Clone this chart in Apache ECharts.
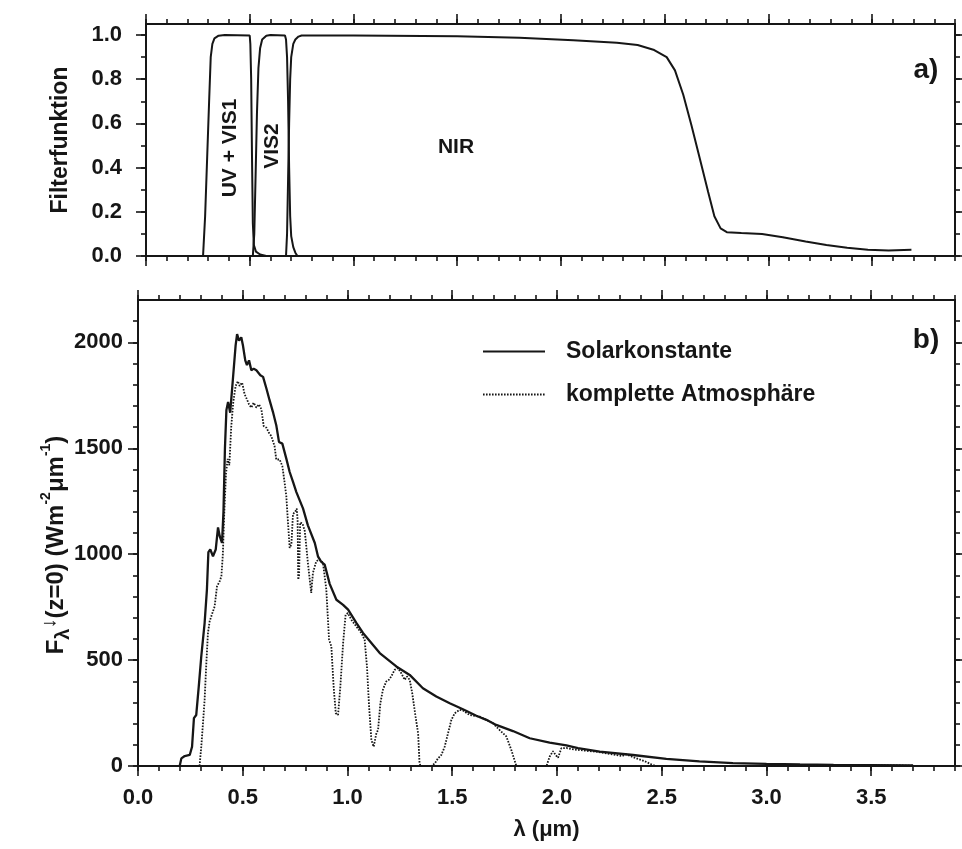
<!DOCTYPE html>
<html>
<head>
<meta charset="utf-8">
<script src="https://cdn.jsdelivr.net/npm/echarts@6/dist/echarts.min.js"></script>
<style>
html,body{margin:0;padding:0;background:#fff;}
#chart{width:962px;height:849px;}
</style>
</head>
<body>
<div id="chart"></div>
<script>
// ---------------- data ----------------
// wavelength axis ticks (µm)
const xMajorTicks = [0.0, 0.5, 1.0, 1.5, 2.0, 2.5, 3.0, 3.5];
const topYMajorTicks = [0.0, 0.2, 0.4, 0.6, 0.8, 1.0];
const bottomYMajorTicks = [0, 500, 1000, 1500, 2000];

// panel a) filter functions [λ µm, transmission]
const uvVis1Filter = [[0.275,0],[0.285,0.18],[0.295,0.45],[0.305,0.72],[0.312,0.9],[0.32,0.96],[0.33,0.985],[0.35,0.997],[0.38,1.0],[0.50,0.998],[0.503,0.96],[0.507,0.8],[0.511,0.45],[0.515,0.15],[0.52,0.05],[0.53,0.02],[0.55,0.007],[0.58,0]];
const vis2Filter = [[0.515,0],[0.522,0.1],[0.528,0.35],[0.535,0.65],[0.542,0.85],[0.55,0.94],[0.56,0.98],[0.58,0.997],[0.60,1.0],[0.67,0.998],[0.675,0.98],[0.68,0.9],[0.685,0.7],[0.69,0.4],[0.695,0.18],[0.70,0.09],[0.71,0.04],[0.72,0.015],[0.73,0]];
const nirFilter = [[0.675,0],[0.68,0.1],[0.685,0.35],[0.69,0.6],[0.695,0.8],[0.70,0.9],[0.71,0.96],[0.72,0.98],[0.735,0.993],[0.75,0.998],[1.0,0.998],[1.5,0.995],[1.8,0.988],[2.06,0.977],[2.27,0.965],[2.37,0.955],[2.45,0.932],[2.51,0.9],[2.55,0.84],[2.59,0.73],[2.63,0.59],[2.67,0.44],[2.71,0.29],[2.74,0.18],[2.77,0.125],[2.80,0.108],[2.87,0.104],[2.97,0.1],[3.07,0.085],[3.18,0.066],[3.28,0.05],[3.38,0.037],[3.48,0.028],[3.58,0.025],[3.69,0.028]];

// panel b) downward spectral flux at z=0 [λ µm, W m-2 µm-1]
const solarConstant = [[0.199,0],[0.207,36],[0.223,47],[0.247,52],[0.258,91],[0.267,226],[0.278,241],[0.29,375],[0.302,517],[0.318,675],[0.329,833],[0.336,1010],[0.345,1022],[0.358,990],[0.371,1022],[0.382,1126],[0.39,1085],[0.401,1053],[0.408,1200],[0.415,1500],[0.422,1680],[0.43,1719],[0.44,1668],[0.453,1826],[0.466,1986],[0.473,2039],[0.482,2008],[0.493,2024],[0.501,1985],[0.512,1915],[0.52,1893],[0.53,1915],[0.541,1868],[0.552,1876],[0.565,1868],[0.584,1845],[0.597,1837],[0.613,1782],[0.628,1727],[0.644,1672],[0.66,1609],[0.673,1530],[0.689,1522],[0.708,1451],[0.724,1388],[0.74,1341],[0.756,1293],[0.772,1254],[0.788,1215],[0.811,1136],[0.844,1053],[0.859,990],[0.874,965],[0.891,951],[0.915,860],[0.947,785],[0.979,761],[1.003,738],[1.043,675],[1.074,628],[1.154,533],[1.233,470],[1.297,430],[1.36,367],[1.424,328],[1.488,296],[1.551,268],[1.615,237],[1.663,218],[1.71,194],[1.79,165],[1.87,131],[1.965,110],[2.045,97],[2.1,84],[2.204,68],[2.363,52],[2.522,34],[2.68,22],[2.84,14],[3.0,10],[3.16,7],[3.32,5],[3.5,4],[3.7,3]];
const completeAtmosphere = [[0.294,0],[0.302,91],[0.31,200],[0.318,312],[0.326,480],[0.334,628],[0.342,683],[0.355,722],[0.366,754],[0.377,848],[0.39,872],[0.398,896],[0.405,1000],[0.412,1200],[0.42,1380],[0.428,1450],[0.436,1420],[0.445,1600],[0.455,1720],[0.466,1794],[0.477,1817],[0.485,1794],[0.497,1810],[0.509,1755],[0.52,1731],[0.53,1707],[0.541,1692],[0.552,1715],[0.565,1692],[0.578,1707],[0.589,1684],[0.6,1605],[0.613,1597],[0.625,1573],[0.636,1558],[0.652,1510],[0.66,1447],[0.676,1447],[0.689,1416],[0.7,1337],[0.708,1274],[0.716,1150],[0.724,1030],[0.732,1045],[0.74,1190],[0.75,1200],[0.758,1215],[0.762,1160],[0.765,880],[0.769,900],[0.774,1150],[0.785,1145],[0.796,1110],[0.811,959],[0.827,817],[0.835,911],[0.851,967],[0.867,975],[0.883,959],[0.899,833],[0.912,596],[0.923,565],[0.934,375],[0.944,249],[0.955,241],[0.966,375],[0.979,580],[0.991,714],[1.002,722],[1.018,691],[1.042,659],[1.066,628],[1.082,596],[1.093,470],[1.103,281],[1.114,123],[1.125,91],[1.138,155],[1.146,170],[1.157,296],[1.169,360],[1.185,399],[1.198,407],[1.209,423],[1.225,454],[1.241,462],[1.257,438],[1.273,407],[1.284,423],[1.297,407],[1.309,344],[1.325,233],[1.337,155],[1.344,13],[1.349,0],[1.40,0],[1.416,11],[1.432,36],[1.448,52],[1.464,91],[1.48,155],[1.496,218],[1.512,249],[1.535,265],[1.551,262],[1.583,241],[1.631,233],[1.663,218],[1.694,202],[1.726,170],[1.758,140],[1.782,76],[1.806,0],[1.95,0],[1.965,44],[1.981,70],[1.995,50],[2.005,39],[2.021,84],[2.045,85],[2.068,80],[2.1,76],[2.2,66],[2.31,47],[2.33,55],[2.36,43],[2.39,32],[2.42,22],[2.45,8],[2.47,0],[3.1,0],[3.15,5],[3.3,4],[3.5,3],[3.7,2]];

// ---------------- styling / layout ----------------
const FONT = '"Liberation Sans", Arial, sans-serif';
const INK = '#161616';
const X_MAX = 3.9, TOP_Y_MAX = 1.05, BOT_Y_MAX = 2200;

function range(step, max) { const a = []; for (let k = 0; k * step <= max + 1e-9; k++) a.push(+(k * step).toFixed(6)); return a; }
const xMinorTicks = range(0.1, X_MAX);
const topYMinorTicks = range(0.1, 1.0);
const bottomYMinorTicks = range(100, 2100);

const line = { show: true, onZero: false, lineStyle: { color: INK, width: 2 } };
function axis(grid, pos, max, ticks, len, labels) {
  const a = {
    type: 'value', gridIndex: grid, position: pos, min: 0, max: max,
    axisLine: line, splitLine: { show: false },
    axisTick: { show: true, customValues: ticks, length: len, lineStyle: { color: INK, width: 1.6 } },
    axisLabel: { show: false }
  };
  if (labels) a.axisLabel = Object.assign({ show: true, customValues: ticks, color: INK, fontFamily: FONT, fontWeight: 'bold', fontSize: 22 }, labels);
  return a;
}
const fmt1 = v => v.toFixed(1);
const fmt0 = v => String(Math.round(v));

const xAxes = [], yAxes = [];
// grid 0 (panel a): x axes 0-3, y axes 0-3
xAxes.push(axis(0, 'bottom', X_MAX, xMajorTicks, 10));
xAxes.push(axis(0, 'bottom', X_MAX, xMinorTicks, 5));
xAxes.push(axis(0, 'top', X_MAX, xMajorTicks, 10));
xAxes.push(axis(0, 'top', X_MAX, xMinorTicks, 5));
yAxes.push(axis(0, 'left', TOP_Y_MAX, topYMajorTicks, 10, { margin: 24, formatter: fmt1 }));
yAxes.push(axis(0, 'left', TOP_Y_MAX, topYMinorTicks, 5));
yAxes.push(axis(0, 'right', TOP_Y_MAX, topYMajorTicks, 10));
yAxes.push(axis(0, 'right', TOP_Y_MAX, topYMinorTicks, 5));
// grid 1 (panel b): x axes 4-7, y axes 4-7
xAxes.push(axis(1, 'bottom', X_MAX, xMajorTicks, 10, { margin: 21, formatter: fmt1 }));
xAxes.push(axis(1, 'bottom', X_MAX, xMinorTicks, 5));
xAxes.push(axis(1, 'top', X_MAX, xMajorTicks, 10));
xAxes.push(axis(1, 'top', X_MAX, xMinorTicks, 5));
yAxes.push(axis(1, 'left', BOT_Y_MAX, bottomYMajorTicks, 10, { margin: 15, formatter: fmt0 }));
yAxes.push(axis(1, 'left', BOT_Y_MAX, bottomYMinorTicks, 5));
yAxes.push(axis(1, 'right', BOT_Y_MAX, bottomYMajorTicks, 10));
yAxes.push(axis(1, 'right', BOT_Y_MAX, bottomYMinorTicks, 5));

// axis names
Object.assign(xAxes[4], {
  name: 'λ (μm)', nameLocation: 'middle', nameGap: 53,
  nameTextStyle: { color: INK, fontFamily: FONT, fontWeight: 'bold', fontSize: 22 }
});
Object.assign(yAxes[0], {
  name: 'Filterfunktion', nameLocation: 'middle', nameRotate: 90, nameGap: 74,
  nameTextStyle: { color: INK, fontFamily: FONT, fontWeight: 'bold', fontSize: 23 }
});

const solid = (w) => ({ color: INK, width: w, type: 'solid' });
const txt = (extra) => Object.assign({ fill: INK, fontFamily: FONT, fontWeight: 'bold' }, extra);

const option = {
  animation: false,
  backgroundColor: '#fff',
  grid: [
    { left: 146, top: 24, width: 809, height: 232 },
    { left: 138, top: 300, width: 817, height: 466 }
  ],
  xAxis: xAxes,
  yAxis: yAxes,
  legend: {
    data: ['Solarkonstante', 'komplette Atmosphäre'],
    orient: 'vertical', left: 477, top: 335,
    itemWidth: 62, itemHeight: 14, itemGap: 20,
    selectedMode: false,
    itemStyle: { opacity: 0, borderWidth: 0 },
    textStyle: { color: INK, fontFamily: FONT, fontWeight: 'bold', fontSize: 23, padding: [0, 0, 0, 16] }
  },
  series: [
    { name: 'UV + VIS1', type: 'line', xAxisIndex: 0, yAxisIndex: 0, data: uvVis1Filter, symbol: 'none', lineStyle: solid(2), color: INK },
    { name: 'VIS2', type: 'line', xAxisIndex: 0, yAxisIndex: 0, data: vis2Filter, symbol: 'none', lineStyle: solid(2), color: INK },
    { name: 'NIR', type: 'line', xAxisIndex: 0, yAxisIndex: 0, data: nirFilter, symbol: 'none', lineStyle: solid(2), color: INK },
    { name: 'Solarkonstante', type: 'line', xAxisIndex: 4, yAxisIndex: 4, data: solarConstant, symbol: 'none', lineStyle: solid(2.3), color: INK },
    { name: 'komplette Atmosphäre', type: 'line', xAxisIndex: 4, yAxisIndex: 4, data: completeAtmosphere, symbol: 'none', lineStyle: { color: INK, width: 1.8, type: [1.6, 1.4] }, color: INK }
  ],
  graphic: [
    { type: 'text', x: 230, y: 148, rotation: Math.PI / 2, style: txt({ text: 'UV + VIS1', fontSize: 21, align: 'center', verticalAlign: 'middle' }) },
    { type: 'text', x: 272, y: 146, rotation: Math.PI / 2, style: txt({ text: 'VIS2', fontSize: 21, align: 'center', verticalAlign: 'middle' }) },
    { type: 'text', x: 456, y: 147, style: txt({ text: 'NIR', fontSize: 21, align: 'center', verticalAlign: 'middle' }) },
    { type: 'text', x: 926, y: 70, style: txt({ text: 'a)', fontSize: 28, align: 'center', verticalAlign: 'middle' }) },
    { type: 'text', x: 926, y: 340, style: txt({ text: 'b)', fontSize: 28, align: 'center', verticalAlign: 'middle' }) },
    {
      type: 'text', x: 56, y: 545, rotation: Math.PI / 2,
      style: txt({
        text: '{b|F}{s|λ}{a|↓}{b|(z=0) (Wm}{p|-2}{b|μm}{p|-1}{b|)}',
        fontSize: 24, align: 'center', verticalAlign: 'middle',
        rich: {
          b: { fill: INK, fontFamily: FONT, fontWeight: 'bold', fontSize: 24, lineHeight: 34, verticalAlign: 'middle' },
          s: { fill: INK, fontFamily: FONT, fontWeight: 'bold', fontSize: 20, lineHeight: 20, verticalAlign: 'bottom' },
          a: { fill: INK, fontFamily: FONT, fontSize: 20, lineHeight: 20, verticalAlign: 'top' },
          p: { fill: INK, fontFamily: FONT, fontWeight: 'bold', fontSize: 14, lineHeight: 14, verticalAlign: 'top' }
        }
      })
    }
  ]
};

const chart = echarts.init(document.getElementById('chart'), null, { renderer: 'canvas' });
chart.setOption(option);
</script>
</body>
</html>
